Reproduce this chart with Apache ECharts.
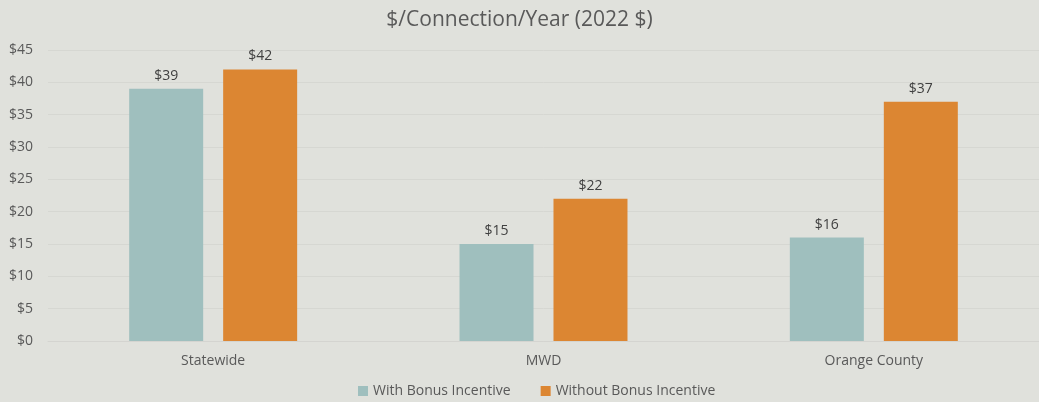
<!DOCTYPE html>
<html>
<head>
<meta charset="utf-8">
<script src="https://cdn.jsdelivr.net/npm/echarts@6/dist/echarts.min.js"></script>
<style>
html,body{margin:0;padding:0;background:#e0e1dc;}
#container{width:1039px;height:402px;}
</style>
</head>
<body>
<div id="container"></div>
<script>
var categories = ['Statewide', 'MWD', 'Orange County'];
var withBonus = [39, 15, 16];
var withoutBonus = [42, 22, 37];
var yTicks = [0, 5, 10, 15, 20, 25, 30, 35, 40, 45];

var textColor = '#595959';
var font = 'Open Sans';

var myChart = echarts.init(document.getElementById('container'));
var option = {
	backgroundColor: '#e0e1dc',
	animation: false,
	textStyle: {fontFamily: font},
	title: {
		text: '$/Connection/Year (2022 $)',
		left: 'center',
		top: 5,
		textStyle: {color: textColor, fontSize: 21, fontWeight: 'normal', fontFamily: font}
	},
	legend: {
		bottom: -1,
		left: 353,
		itemWidth: 10,
		itemHeight: 10,
		itemGap: 30,
		icon: 'rect',
		textStyle: {color: textColor, fontSize: 14, fontFamily: font},
		data: ['With Bonus Incentive', 'Without Bonus Incentive']
	},
	grid: {left: 48, right: -3, top: 50, bottom: 61},
	xAxis: {
		type: 'category',
		data: categories,
		axisLine: {lineStyle: {color: '#d4d4d0'}},
		axisTick: {show: false},
		axisLabel: {color: textColor, fontSize: 14, margin: 13, fontFamily: font}
	},
	yAxis: {
		type: 'value',
		min: yTicks[0],
		max: yTicks[yTicks.length - 1],
		interval: 5,
		axisLine: {show: false},
		axisTick: {show: false},
		splitLine: {lineStyle: {color: '#d6d7d2'}},
		axisLabel: {
			color: textColor, fontSize: 14, margin: 15, fontFamily: font,
			formatter: function (v) { return '$' + v; }
		}
	},
	series: [
		{
			name: 'With Bonus Incentive',
			type: 'bar',
			data: withBonus,
			barWidth: '22.4%',
			barGap: '27%',
			itemStyle: {color: '#9fbfbe'},
			label: {show: true, position: 'top', distance: 6, color: '#404040', fontSize: 14, fontFamily: font, formatter: '${c}'}
		},
		{
			name: 'Without Bonus Incentive',
			type: 'bar',
			data: withoutBonus,
			barWidth: '22.4%',
			itemStyle: {color: '#dc8632'},
			label: {show: true, position: 'top', distance: 6, color: '#404040', fontSize: 14, fontFamily: font, formatter: '${c}'}
		}
	]
};
myChart.setOption(option, true);
</script>
</body>
</html>
